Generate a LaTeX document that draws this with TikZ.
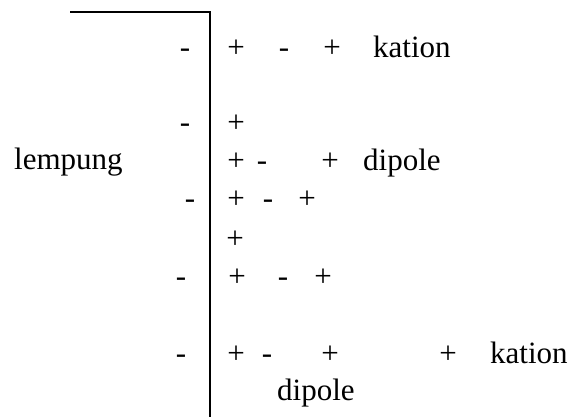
\documentclass[tikz,border=0pt]{standalone}
\usepackage{fontspec}
\setmainfont{Liberation Serif}
\tikzset{
  chg/.style={anchor=base,inner sep=0pt,font=\fontsize{31}{31}\selectfont},
  lbl/.style={anchor=base west,inner sep=0pt,font=\fontsize{31}{31}\selectfont}
}
\begin{document}
\begin{tikzpicture}[x=1pt,y=-1pt]
  \useasboundingbox (0,0) rectangle (576,417);
  % clay surface
  \draw[line width=2pt] (70,12) -- (210,12) -- (210,417);
  \node[lbl] (clay) at (14,170) {lempung};
  % row 1: cation
  \node[chg] (s1a) at (185,58) {-};
  \node[chg] (p1a) at (236,58) {+};
  \node[chg] (m1a) at (284,58) {-};
  \node[chg] (p1b) at (332,58) {+};
  \node[lbl] (kat1) at (373,58) {kation};
  % row 2
  \node[chg] (s2a) at (185,133) {-};
  \node[chg] (p2a) at (236,133) {+};
  % row 3: dipole
  \node[chg] (p3a) at (236,171) {+};
  \node[chg] (m3a) at (262,171) {-};
  \node[chg] (p3b) at (330,171) {+};
  \node[lbl] (dip1) at (363,171) {dipole};
  % row 4
  \node[chg] (s4a) at (190,208) {-};
  \node[chg] (p4a) at (236,208) {+};
  \node[chg] (m4a) at (268,208) {-};
  \node[chg] (p4b) at (307,208) {+};
  % row 5
  \node[chg] (p5a) at (235,248) {+};
  % row 6
  \node[chg] (s6a) at (181,286) {-};
  \node[chg] (p6a) at (237,286) {+};
  \node[chg] (m6a) at (283,286) {-};
  \node[chg] (p6b) at (323,286) {+};
  % row 7: dipole and cation
  \node[chg] (s7a) at (181,363) {-};
  \node[chg] (p7a) at (236,363) {+};
  \node[chg] (m7a) at (267,363) {-};
  \node[chg] (p7b) at (330,363) {+};
  \node[chg] (p7c) at (448,363) {+};
  \node[lbl] (kat2) at (490,363) {kation};
  \node[lbl] (dip2) at (277,400) {dipole};
\end{tikzpicture}
\end{document}
